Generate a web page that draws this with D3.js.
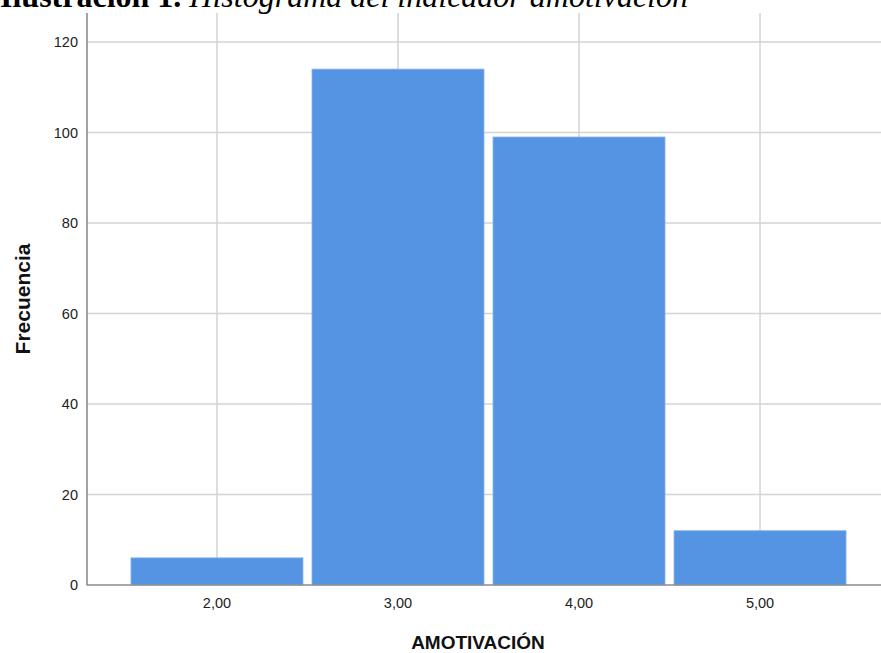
<!DOCTYPE html>
<html>
<head>
<meta charset="utf-8">
<script src="https://cdn.jsdelivr.net/npm/d3@7"></script>
<style>
  html, body { margin: 0; padding: 0; background: #ffffff; overflow: hidden; }
  svg { display: block; }
</style>
</head>
<body>
<svg id="chart" width="881" height="653"></svg>
<script>
// ---- data ----
const binCenters = [2, 3, 4, 5];
const frequencies = [6, 114, 99, 12];
const xTickValues = [2, 3, 4, 5];
const xTickLabels = ["2,00", "3,00", "4,00", "5,00"];
const yTickValues = [0, 20, 40, 60, 80, 100, 120];
const titleBold = "Ilustración 1";
const titleItalic = "Histograma del indicador amotivación";
const xAxisTitle = "AMOTIVACIÓN";
const yAxisTitle = "Frecuencia";

// ---- layout ----
const svg = d3.select("#chart");
const plot = { left: 87, right: 890, top: 13, bottom: 585 };
const x = d3.scaleLinear().domain([1.282, 5.718]).range([plot.left, plot.right]);
const y = d3.scaleLinear().domain([0, 126.4]).range([plot.bottom, plot.top]);
const gridColor = "#d3d3d3";
const axisColor = "#8c8c8c";
const barColor = "#5594e3";
const inset = 4.5;

// horizontal grid
svg.append("g").selectAll("line").data(yTickValues.filter(v => v > 0)).join("line")
  .attr("x1", plot.left).attr("x2", plot.right)
  .attr("y1", d => y(d)).attr("y2", d => y(d))
  .attr("stroke", gridColor).attr("stroke-width", 1.5);

// vertical grid
svg.append("g").selectAll("line").data(xTickValues).join("line")
  .attr("x1", d => x(d)).attr("x2", d => x(d))
  .attr("y1", plot.top).attr("y2", plot.bottom)
  .attr("stroke", gridColor).attr("stroke-width", 1.5);

// bars
svg.append("g").selectAll("rect").data(binCenters.map((c, i) => ({ c, v: frequencies[i] }))).join("rect")
  .attr("x", d => x(d.c - 0.5) + inset)
  .attr("width", d => x(d.c + 0.5) - x(d.c - 0.5) - 2 * inset)
  .attr("y", d => y(d.v))
  .attr("height", d => y(0) - y(d.v))
  .attr("fill", barColor)
  .attr("stroke", "#8ab4ec").attr("stroke-width", 0.8);

// axes lines
svg.append("line").attr("x1", plot.left).attr("x2", plot.left)
  .attr("y1", plot.top).attr("y2", plot.bottom + 0.5)
  .attr("stroke", axisColor).attr("stroke-width", 1.6);
svg.append("line").attr("x1", plot.left).attr("x2", plot.right)
  .attr("y1", plot.bottom).attr("y2", plot.bottom)
  .attr("stroke", axisColor).attr("stroke-width", 1.6);

// y tick labels
svg.append("g").selectAll("text").data(yTickValues).join("text")
  .attr("x", 78).attr("y", d => y(d))
  .attr("dy", "0.35em")
  .attr("text-anchor", "end")
  .attr("font-family", "Liberation Sans, Arial, sans-serif")
  .attr("font-size", 14.5).attr("fill", "#222")
  .text(d => d);

// x tick labels
svg.append("g").selectAll("text").data(xTickValues).join("text")
  .attr("x", d => x(d)).attr("y", 608)
  .attr("text-anchor", "middle")
  .attr("font-family", "Liberation Sans, Arial, sans-serif")
  .attr("font-size", 14.5).attr("fill", "#222")
  .text((d, i) => xTickLabels[i]);

// axis titles
svg.append("text")
  .attr("x", 478).attr("y", 649)
  .attr("text-anchor", "middle")
  .attr("font-family", "Liberation Sans, Arial, sans-serif")
  .attr("font-weight", "bold").attr("font-size", 19).attr("fill", "#111")
  .text(xAxisTitle);

svg.append("text")
  .attr("transform", "translate(30,299) rotate(-90)")
  .attr("text-anchor", "middle")
  .attr("font-family", "Liberation Sans, Arial, sans-serif")
  .attr("font-weight", "bold").attr("font-size", 21).attr("fill", "#111")
  .text(yAxisTitle);

// figure caption (clipped at the top, as in the reference)
const cap = svg.append("text")
  .attr("x", 0).attr("y", 7)
  .attr("font-family", "Liberation Serif, Times New Roman, serif")
  .attr("font-size", 32).attr("fill", "#000");
cap.append("tspan").attr("font-weight", "bold").text(titleBold);
cap.append("tspan").attr("font-weight", "bold").text(". ");
cap.append("tspan").attr("font-style", "italic").text(titleItalic);
</script>
</body>
</html>
